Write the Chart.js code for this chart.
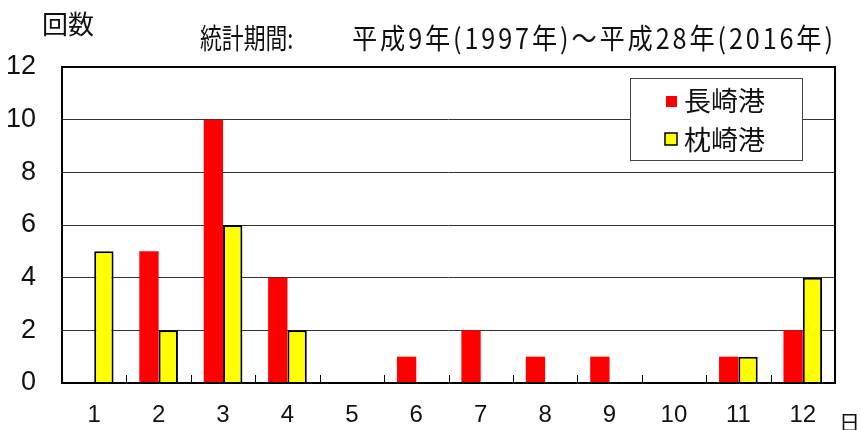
<!DOCTYPE html>
<html>
<head>
<meta charset="utf-8">
<script src="https://cdn.jsdelivr.net/npm/chart.js@4"></script>
<style>
  html, body { margin: 0; padding: 0; background: #fff; }
  #wrap { width: 862px; height: 430px; position: relative; }
</style>
</head>
<body>
<div id="wrap"><canvas id="chart" width="862" height="430"></canvas></div>
<script>
const months = ["1", "2", "3", "4", "5", "6", "7", "8", "9", "10", "11", "12"];
const nagasaki = [0, 5, 10, 4, 0, 1, 2, 1, 1, 0, 1, 2];
const makurazaki = [5, 2, 6, 2, 0, 0, 0, 0, 0, 0, 1, 4];
const seriesNames = ["長崎港", "枕崎港"];
const yTicks = [0, 2, 4, 6, 8, 10, 12];

const JP = "'Noto Sans CJK JP', sans-serif";
const NUM = "'Liberation Sans Narrow', 'Liberation Sans', Arial, sans-serif";

// 横に少し詰めた文字を描く
function squeezed(ctx, text, x, y, sx, spacing) {
  ctx.save();
  ctx.translate(x, y);
  ctx.scale(sx, 1);
  ctx.letterSpacing = spacing + "px";
  ctx.fillText(text, 0, 0);
  ctx.restore();
}

// 枠線・目盛り・凡例・見出し
const decor = {
  id: "decor",
  afterDatasetsDraw(chart) {
    const { ctx, chartArea: a, scales } = chart;
    ctx.save();
    // カテゴリ境界の小さな目盛り
    const x = scales.x;
    const step = x.getPixelForValue(1) - x.getPixelForValue(0);
    ctx.strokeStyle = "#000";
    ctx.lineWidth = 1;
    for (let i = 1; i < months.length; i++) {
      const px = Math.round(x.getPixelForValue(i) - step / 2) + 0.5;
      ctx.beginPath();
      ctx.moveTo(px, a.bottom);
      ctx.lineTo(px, a.bottom - 8);
      ctx.stroke();
    }
    // 外枠
    ctx.lineWidth = 2;
    ctx.strokeRect(a.left, a.top, a.right - a.left, a.bottom - a.top);

    // 凡例
    const lx = 630, ly = 78, lw = 172, lh = 82;
    ctx.fillStyle = "#fff";
    ctx.fillRect(lx, ly, lw, lh);
    ctx.lineWidth = 1;
    ctx.strokeStyle = "#444";
    ctx.strokeRect(lx + 0.5, ly + 0.5, lw, lh);
    ctx.fillStyle = "#ff0000";
    ctx.fillRect(666, 96, 11, 11);
    ctx.fillStyle = "#ffff00";
    ctx.fillRect(665, 133, 12, 12);
    ctx.strokeStyle = "#000";
    ctx.lineWidth = 1.5;
    ctx.strokeRect(665, 133, 12, 12);
    ctx.fillStyle = "#111";
    ctx.font = "27px " + JP;
    ctx.textBaseline = "middle";
    ctx.textAlign = "left";
    ctx.fillText(seriesNames[0], 684, 101);
    ctx.fillText(seriesNames[1], 684, 140);

    // 見出し
    ctx.font = "26px " + JP;
    ctx.fillText("回数", 42, 24);
    ctx.font = "28px " + JP;
    squeezed(ctx, "統計期間:", 200, 38, 0.78, 0);
    squeezed(ctx, "平成9年(1997年)～平成28年(2016年)", 352, 38, 0.9, 3.2);
    ctx.font = "21px " + JP;
    ctx.fillText("日", 839, 422);
    ctx.restore();
  }
};

new Chart(document.getElementById("chart"), {
  type: "bar",
  data: {
    labels: months,
    datasets: [
      {
        label: seriesNames[0],
        data: nagasaki,
        backgroundColor: "#ff0000",
        borderWidth: 0,
        categoryPercentage: 0.6,
        barPercentage: 1.0,
      },
      {
        label: seriesNames[1],
        data: makurazaki,
        backgroundColor: "#ffff00",
        borderColor: "#000",
        borderWidth: 2,
        borderSkipped: "bottom",
        categoryPercentage: 0.6,
        barPercentage: 1.0,
      },
    ],
  },
  options: {
    responsive: false,
    animation: false,
    layout: { padding: { top: 67, right: 27, left: 0, bottom: 0 } },
    plugins: {
      legend: { display: false },
      tooltip: { enabled: false },
    },
    scales: {
      x: {
        grid: { display: false, drawTicks: false },
        border: { display: false },
        ticks: { color: "#111", font: { family: NUM, size: 24 }, padding: 18, maxRotation: 0 },
        afterFit(s) { s.height = 47; },
      },
      y: {
        min: 0,
        max: 12,
        afterBuildTicks(s) { s.ticks = yTicks.map((v) => ({ value: v })); },
        grid: { color: "#333", lineWidth: 1, drawTicks: false },
        border: { display: false },
        ticks: { color: "#111", font: { family: NUM, size: 27 }, padding: 26 },
        afterFit(s) { s.width = 62; },
      },
    },
  },
  plugins: [decor],
});
</script>
</body>
</html>
